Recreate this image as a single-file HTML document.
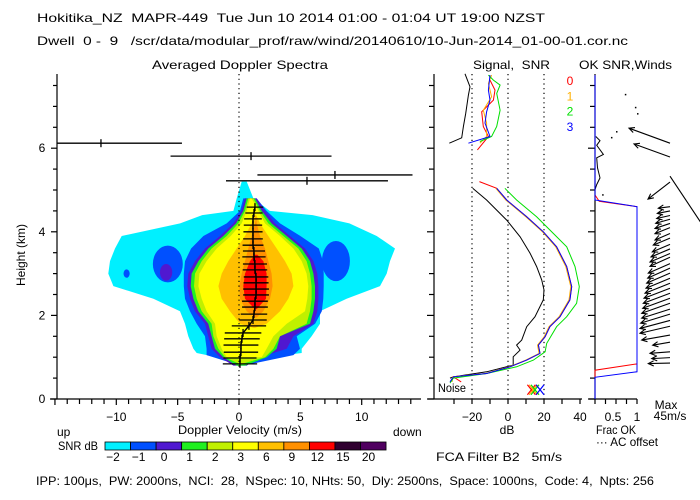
<!DOCTYPE html>
<html><head><meta charset="utf-8">
<style>
body{margin:0;background:#fff}
svg{display:block;font-family:"Liberation Sans",sans-serif;}
text{fill:#000;font-size:12px;white-space:pre}
</style></head>
<body>
<svg id="chart" width="700" height="500" viewBox="0 0 700 500" xml:space="preserve">
<defs>
<clipPath id="mainClip"><rect x="57" y="74" width="364" height="325"/></clipPath>
<clipPath id="windClip"><rect x="595" y="74" width="105" height="325"/></clipPath>
</defs>
<rect width="700" height="500" fill="#fff"/>
<text x="37" y="22" font-size="13" textLength="508" lengthAdjust="spacingAndGlyphs">Hokitika_NZ  MAPR-449  Tue Jun 10 2014 01:00 - 01:04 UT 19:00 NZST</text>
<text x="37" y="45" font-size="12" textLength="591" lengthAdjust="spacingAndGlyphs">Dwell  0 -  9   /scr/data/modular_prof/raw/wind/20140610/10-Jun-2014_01-00-01.cor.nc</text>
<text x="152" y="69" font-size="12" textLength="176" lengthAdjust="spacingAndGlyphs">Averaged Doppler Spectra</text>
<text x="473" y="69" font-size="12" textLength="77" lengthAdjust="spacingAndGlyphs">Signal,  SNR</text>
<text x="579" y="69" font-size="12" textLength="93" lengthAdjust="spacingAndGlyphs">OK SNR,Winds</text>
<text x="25" y="255" font-size="11" text-anchor="middle" transform="rotate(-90 25 255)">Height (km)</text>
<text x="240" y="434" font-size="12" text-anchor="middle" textLength="124" lengthAdjust="spacingAndGlyphs">Doppler Velocity (m/s)</text>
<text x="57" y="436" font-size="12">up</text>
<text x="393" y="436" font-size="12">down</text>
<text x="58" y="450" font-size="12" textLength="40" lengthAdjust="spacingAndGlyphs">SNR dB</text>
<text x="507" y="434" font-size="12" text-anchor="middle">dB</text>
<text x="666" y="409" font-size="12" text-anchor="middle">Max</text>
<text x="670" y="420" font-size="12" text-anchor="middle">45m/s</text>
<text x="596" y="434" font-size="12" textLength="40" lengthAdjust="spacingAndGlyphs">Frac OK</text>
<text x="596" y="446" font-size="12" textLength="62" lengthAdjust="spacingAndGlyphs">··· AC offset</text>
<text x="436" y="461" font-size="12" textLength="126" lengthAdjust="spacingAndGlyphs">FCA Filter B2   5m/s</text>
<text x="36" y="485" font-size="12" textLength="618" lengthAdjust="spacingAndGlyphs">IPP: 100μs,  PW: 2000ns,  NCI:  28,  NSpec: 10, NHts: 50,  Dly: 2500ns,  Space: 1000ns,  Code: 4,  Npts: 256</text>
<text x="438" y="392" font-size="12" textLength="28" lengthAdjust="spacingAndGlyphs">Noise</text>
<g id="mainG" clip-path="url(#mainClip)"></g>
<g id="axesG"></g>
<g id="sigG"></g>
<g id="windG"></g>
<g id="cbG"></g>
</svg>
<script>
// ---------- data ----------
const cyanH=[0.8,0.95,1.1,1.2,1.5,1.8,2.1,2.4,2.7,3.0,3.3,3.6,3.9,4.2,4.4,4.5,4.8,5.2];
const cyanL=[-0.19,-1.0,-3.45,-3.72,-4.13,-4.40,-4.81,-6.98,-10.24,-10.65,-10.51,-10.11,-9.56,-4.8,-3.0,-0.46,-0.19,0.22];
const cyanR=[0.63,1.2,5.11,5.11,5.92,6.60,6.60,8.77,11.49,12.04,12.31,12.71,11.22,9.0,6.0,2.5,1.17,0.63];
const blueH=[0.85,1.05,1.2,1.5,1.8,2.1,2.4,2.7,3.0,3.3,3.6,3.9,4.2,4.5,4.8];
const blueL=[-0.46,-2.64,-2.64,-2.77,-3.45,-3.99,-4.4,-4.5,-4.5,-4.4,-3.9,-2.9,-1.0,0.08,0.35];
const blueR=[1.17,4.43,4.97,4.70,6.2,6.75,6.87,6.9,6.9,6.85,6.5,5.0,3.34,2.25,1.44];
const purpH=[0.8,1.0,1.2,1.5,1.8,2.1,2.4,2.7,3.0,3.3,3.6,3.9,4.2,4.5,4.8];
const purpL=[-0.46,-1.55,-2.23,-2.50,-2.77,-3.59,-3.99,-4.21,-4.13,-3.59,-2.77,-1.55,-0.46,0.22,0.49];
const purpR=[0.63,1.71,3.89,4.43,6.06,6.38,6.47,6.47,6.38,6.06,5.38,4.16,2.93,2.12,1.44];
const grnH=[0.8,1.0,1.2,1.5,1.8,2.1,2.4,2.7,3.0,3.3,3.6,3.9,4.2,4.5,4.8];
const grnL=[-0.19,-1.28,-1.96,-2.23,-2.50,-3.31,-3.72,-3.94,-3.86,-3.31,-2.50,-1.28,-0.24,0.35,0.63];
const grnR=[0.49,2.25,3.07,3.34,5.79,6.06,6.19,6.19,6.06,5.79,5.11,3.89,2.66,1.85,1.30];
const ygH=[0.85,1.0,1.2,1.5,1.8,2.1,2.4,2.7,3.0,3.3,3.6,3.9,4.2,4.5,4.8];
const ygL=[-0.05,-1.14,-1.68,-2.09,-2.23,-3.04,-3.45,-3.67,-3.59,-3.04,-2.23,-1.00,-0.05,0.49,0.76];
const ygR=[0.35,2.12,2.80,3.34,5.51,5.79,5.92,5.92,5.79,5.51,4.84,3.61,2.39,1.71,1.17];
const yelH=[1.0,1.2,1.5,1.8,2.1,2.4,2.7,3.0,3.3,3.6,3.9,4.2,4.5,4.8];
const yelL=[-1.00,-1.41,-1.82,-1.96,-2.64,-3.04,-3.31,-3.23,-2.64,-1.82,-0.68,0.22,0.63,0.90];
const yelR=[1.85,2.25,2.80,3.89,5.38,5.57,5.65,5.51,5.11,4.43,3.34,2.12,1.58,1.03];
const lorH=[1.7,1.8,2.1,2.4,2.7,3.0,3.3,3.6,3.9,4.2,4.4];
const lorL=[1.2,0.08,-0.73,-1.41,-1.68,-1.41,-0.87,-0.19,0.49,1.03,1.3];
const lorR=[1.3,2.25,3.34,4.02,4.43,4.29,3.75,3.07,2.39,1.71,1.4];
const orgH=[1.95,2.1,2.4,2.7,3.0,3.3,3.6,3.9,4.2,4.35];
const orgL=[1.30,0.63,0.08,0.03,0.22,0.49,0.76,1.03,1.30,1.4];
const orgR=[1.44,1.98,2.53,2.74,2.66,2.39,2.12,1.71,1.44,1.4];
const redH=[2.15,2.4,2.7,3.0,3.3,3.45];
const redL=[1.30,0.49,0.35,0.49,0.90,1.30];
const redR=[1.44,2.20,2.25,2.25,1.98,1.5];
const lobeV=[-5.8,7.9,-5.94,-9.16];
const lobeH=[3.23,3.3,3.03,3.0];
const lobeRV=[1.22,1.14,0.5,0.25];
const lobeRH=[0.44,0.48,0.2,0.1];
const lobeLevel=['blue','blue','purple','blue'];

const outH=[6.12,5.81,5.36,5.22];
const outV=[-11.25,0.98,7.82,5.54];
const outW=[6.6,6.56,6.32,6.6];
const plumeH=[4.59,4.45,4.31,4.16,4.0,3.83,3.68,3.54,3.40,3.23,3.09,2.92,2.78,2.63,2.49,2.34,2.20,2.03,1.89,1.75,1.58,1.44,1.29,1.12,0.98,0.84];
const plumeV=[1.30,1.22,1.14,1.14,1.14,1.14,1.14,1.22,1.22,1.30,1.30,1.39,1.39,1.39,1.39,1.30,1.30,1.22,1.14,0.81,0.33,0.24,0.16,0.16,0.08,0.08];
const plumeW=[0.68,0.7,0.72,0.75,0.78,0.8,0.85,0.9,0.95,0.98,1.0,1.0,1.02,1.05,1.05,1.05,1.05,1.08,1.12,1.4,1.49,1.45,1.42,1.4,1.35,1.4];

const noiseLowDB=[-19.6,-11.9,-0.7,6.7,12.2,15.9,18.7,20.0,19.6,15.0,10.4,7.6,4.8,6.7,2.9,2.9,-11.9,-30.4,-32.2];
const noiseLowH=[5.04,4.76,4.28,3.88,3.49,3.17,2.85,2.61,2.37,1.97,1.73,1.41,1.29,1.17,1.01,0.81,0.65,0.53,0.50];
const noiseUpDB=[-32.6,-25.7,-24.8,-23.5,-22.0,-21.1,-23.9];
const noiseUpH=[6.12,6.25,6.52,6.83,7.27,7.47,7.78];
const b0DB=[-15.9,-6.3,-0.7,10.4,19.6,27.0,32.6,35.4,34.4,28.9,23.3,20.6,16.9,17.8,10.4,1.1,-11.9,-30.4,-26.0];
const b0H=[5.20,5.04,4.76,4.36,4.00,3.64,3.17,2.69,2.37,1.97,1.73,1.49,1.29,1.09,0.93,0.77,0.61,0.53,0.41];
const b1DB=[-6.8,-1.2,9.9,19.1,26.5,32.1,34.9,33.9,28.4,22.8,20.1,16.4,17.3,9.9,0.6,-12.4,-30.9,-31.0];
const b1H=[5.04,4.76,4.36,4.00,3.64,3.17,2.69,2.37,1.97,1.73,1.49,1.29,1.09,0.93,0.77,0.61,0.53,0.41];
const b2DB=[-1.7,4.8,15.9,25.2,32.6,37.2,39.6,38.1,32.6,27.0,21.5,20.6,14.1,4.8,-11.9,-30.4,-32.2];
const b2H=[5.04,4.76,4.36,3.96,3.64,3.17,2.69,2.29,1.97,1.73,1.33,1.13,0.93,0.77,0.61,0.50,0.38];
const b3DB=[-6.3,-0.7,10.4,19.6,27.0,32.6,35.4,34.4,28.9,23.3,20.6,16.9,17.8,10.4,1.1,-11.9,-30.4,-32.2];
const b3H=[5.04,4.76,4.36,4.00,3.64,3.17,2.69,2.37,1.97,1.73,1.49,1.29,1.09,0.93,0.77,0.61,0.53,0.41];
const u0DB=[-17.0,-10.9,-13.7,-14.6,-8.1,-7.2,-10.0];
const u0H=[5.96,6.28,6.52,6.87,7.15,7.39,7.63];
const u1DB=[-15.6,-11.9,-11.9,-13.7,-9.1,-10.9,-9.1];
const u1H=[6.12,6.28,6.60,6.91,7.23,7.55,7.75];
const u2DB=[-15.6,-9.1,-6.3,-4.4,-6.3,-4.4,-8.1,-10.9];
const u2H=[6.16,6.28,6.52,6.91,7.31,7.51,7.63,7.75];
const u3DB=[-22.0,-10.0,-12.8,-11.9,-10.0,-10.9,-10.0];
const u3H=[6.12,6.28,6.60,6.87,7.15,7.39,7.75];
const xMarkDB=[13.0,14.0,15.0,17.8];
const beamLabels=['0','1','2','3'];

const fracBlueF=[0,0,1.0,1.0,0,0];
const fracBlueH=[7.75,4.76,4.6,0.65,0.52,0];
const fracRedF=[0,0,0.1,1.0,1.0,0,0];
const fracRedH=[7.75,4.88,4.73,4.6,0.84,0.69,0];
const fracOkF=[0.02,0.12,0.04,0.2,0.04,0.06,0.12,0.04,0];
const fracOkH=[6.28,6.18,6.07,5.85,5.77,5.53,5.29,5.13,5.01];
const windH=[6.12,5.79,5.19,5.33,4.60,4.50,4.39,4.30,4.20,4.10,3.96,3.85,3.70,3.59,3.48,3.39,3.24,3.13,3.01,2.89,2.77,2.65,2.53,2.41,2.29,2.15,2.03,1.88,1.74,1.53,1.36,1.13,0.99,0.86];
const windU=[-41,-36,-22,40,-11.7,-12.7,-13.3,-14.3,-15,-15,-15,-16.7,-17.7,-19,-20,-20,-21.7,-22.3,-23.3,-24,-25,-26,-26.7,-27.3,-28.3,-28.3,-29.3,-30,-30,-28.3,-17.3,-20,-18.3,-21.7];
const windV=[15,13,-17,-60,-1.5,-2.5,-3,-4,-5,-6,-6.5,-7,-7.5,-8,-8.5,-9,-9.5,-10,-10,-10,-10,-10,-10,-10,-10,-9,-9,-8,-7,-5,-3,-1.5,-1,-0.5];
const dotF=[0.71,0.95,1.0,0.5,0.38,0.17];
const dotH=[7.3,6.99,6.84,6.41,6.27,4.9];

const velTicks=[-10,-5,0,5,10];
const heightTicks=[0,2,4,6];
const dbTicks=[-20,0,20,40];
const fracTicks=[0.5,1];
const cbLabels=['-2','-1','0','1','2','3','6','9','12','15','20'];
const cbColors=['#00f0ff','#0050ff','#5018d0','#20f020','#c0f000','#ffff00','#ffc000','#ff9000','#ff0000','#300030','#500060'];

// ---------- scales ----------
const mx=v=>239+v*12.27;
const my=h=>399-h*41.8;
const sx=d=>508+d*1.8;
const wx=f=>595+f*42;
const NS='http://www.w3.org/2000/svg';
function mk(tag,attrs,parent){const e=document.createElementNS(NS,tag);for(const k in attrs)e.setAttribute(k,attrs[k]);parent.appendChild(e);return e;}
const mainG=document.getElementById('mainG'),axesG=document.getElementById('axesG'),sigG=document.getElementById('sigG'),windG=document.getElementById('windG'),cbG=document.getElementById('cbG');

const levels=[
 ['cyan',cyanH,cyanL,cyanR,'#00f0ff'],
 ['blue',blueH,blueL,blueR,'#0050ff'],
 ['purple',purpH,purpL,purpR,'#5018d0'],
 ['green',grnH,grnL,grnR,'#20f020'],
 ['yellowgreen',ygH,ygL,ygR,'#c0f000'],
 ['yellow',yelH,yelL,yelR,'#ffff00'],
 ['lightorange',lorH,lorL,lorR,'#ffc000'],
 ['orange',orgH,orgL,orgR,'#ff9000'],
 ['red',redH,redL,redR,'#ff0000']];
const lobeColor={blue:'#0050ff',purple:'#5018d0'};
levels.forEach((lv,li)=>{
  const [name,H,L,R,col]=lv;
  const pts=[];
  for(let i=0;i<H.length;i++)pts.push(mx(L[i]).toFixed(1)+','+my(H[i]).toFixed(1));
  for(let i=H.length-1;i>=0;i--)pts.push(mx(R[i]).toFixed(1)+','+my(H[i]).toFixed(1));
  const p=mk('polygon',{points:pts.join(' '),fill:col},mainG);
  
  
  if(name==='cyan'){
    lobeV.forEach((v,i)=>{
      const e=mk('ellipse',{cx:mx(v),cy:my(lobeH[i]),rx:lobeRV[i]*12.27,ry:lobeRH[i]*41.8,fill:lobeColor[lobeLevel[i]]},mainG);
      
      
    });
  }
});
const zl=mk('line',{x1:mx(0),x2:mx(0),y1:74,y2:399,stroke:'#000','stroke-width':1.2,'stroke-dasharray':'1.2 3.5'},mainG);


function bar(h,v,w,name){
  const y=my(h);
  const a=mk('line',{x1:mx(v-w),x2:mx(v+w),y1:y,y2:y,stroke:'#000','stroke-width':1.3},mainG);
  
  
  const t=mk('line',{x1:mx(v),x2:mx(v),y1:y-4,y2:y+4,stroke:'#000','stroke-width':1.3},mainG);
  
  
}
outH.forEach((h,i)=>bar(h,outV[i],outW[i],'outlier-moment-'+i));
plumeH.forEach((h,i)=>bar(h,plumeV[i],plumeW[i],'moment-bar-'+i));
const pl=mk('polyline',{points:plumeH.map((h,i)=>mx(plumeV[i])+','+my(h)).join(' '),fill:'none',stroke:'#000','stroke-width':1.4},mainG);



function ln(x1,y1,x2,y2,name,extra){
  const l=mk('line',Object.assign({x1:x1,y1:y1,x2:x2,y2:y2,stroke:'#000','stroke-width':1.2},extra||{}),axesG);
  
  
  return l;
}
function txt(x,y,s,name,anchor){
  const t=mk('text',{x:x,y:y,'text-anchor':anchor||'middle','font-size':12},axesG);
  t.textContent=s;
  
  
}
ln(57,74,57,399,'main-y-axis');
ln(50,399,421,399,'main-x-axis');
for(let h=0;h<=7.5;h+=0.5)ln(h%2===0?51:53,my(h),57,my(h),'main-y-tick');
for(let v=-15;v<=14;v++)ln(mx(v),399,mx(v),v%5===0?405:404,'main-x-tick');
heightTicks.forEach(h=>txt(42,my(h)+4,String(h),'y-tick-label-'+h));
velTicks.forEach(v=>txt(mx(v),421,v<0?'\u2212'+(-v):String(v),'x-tick-label-'+v));
ln(434,74,434,399,'signal-y-axis');
ln(428,399,582,399,'signal-x-axis');
for(let h=0;h<=7.5;h+=0.5)ln(h%2===0?427:429,my(h),434,my(h),'signal-y-tick');
for(let d=-30;d<=40;d+=10)ln(sx(d),399,sx(d),404,'signal-x-tick');
dbTicks.forEach(d=>txt(sx(d),421,d<0?'\u2212'+(-d):String(d),'db-tick-label-'+d));
[-20,0,20].forEach(d=>ln(sx(d),74,sx(d),399,'signal-ref-line-'+d,{'stroke-dasharray':'1.2 3.5'}));
ln(595,74,595,399,'winds-y-axis');
ln(589,399,637,399,'winds-x-axis');
for(let h=0;h<=7.5;h+=0.5)ln(h%2===0?588:590,my(h),595,my(h),'winds-y-tick');
for(let f=0;f<=1.001;f+=0.25)ln(wx(f),399,wx(f),404,'winds-x-tick');
fracTicks.forEach(f=>txt(wx(f)-(f===1?0:3),421,String(f),'frac-tick-label-'+f));

function curve(g,dbs,hs,col,name,xf){
  const p=mk('polyline',{points:dbs.map((d,i)=>xf(d).toFixed(1)+','+my(hs[i]).toFixed(1)).join(' '),fill:'none',stroke:col,'stroke-width':1},g);
  
  
}
curve(sigG,noiseLowDB,noiseLowH,'#000','noise-curve-lower',sx);
curve(sigG,noiseUpDB,noiseUpH,'#000','noise-curve-upper',sx);
const beamCols=['#ff0000','#ffb000','#00e000','#0000ff'];
[[b0DB,b0H],[b1DB,b1H],[b2DB,b2H],[b3DB,b3H]].forEach((b,i)=>curve(sigG,b[0],b[1],beamCols[i],'beam-'+i+'-snr',sx));
[[u0DB,u0H],[u1DB,u1H],[u2DB,u2H],[u3DB,u3H]].forEach((b,i)=>curve(sigG,b[0],b[1],beamCols[i],'beam-'+i+'-snr-upper',sx));
xMarkDB.forEach((d,i)=>{
  const x=sx(d),y=my(0.22),c=beamCols[i];
  const a=mk('path',{d:`M${x-4},${y-5}L${x+4},${y+5}M${x+4},${y-5}L${x-4},${y+5}`,stroke:c,'stroke-width':1.2,fill:'none'},sigG);
  
  
});
beamLabels.forEach((s,i)=>{
  const t=mk('text',{x:570,y:85+i*15.3,'text-anchor':'middle','font-size':12,style:'fill:'+beamCols[i]},sigG);
  t.textContent=s;
  
  
});

curve(windG,fracOkF,fracOkH,'#000','ac-offset-curve',wx);
curve(windG,fracRedF,fracRedH,'#ff0000','frac-ok-beam-0',wx);
curve(windG,fracBlueF,fracBlueH,'#0000ff','frac-ok-beam-3',wx);
dotF.forEach((f,i)=>{
  const d=mk('rect',{x:wx(f),y:my(dotH[i]),width:1.5,height:1.5,fill:'#000'},windG);
  
  
});
const wclip=mk('g',{'clip-path':'url(#windClip)'},windG);
windH.forEach((h,i)=>{
  const tx=670,ty=my(h),hx=tx+windU[i],hy=ty-windV[i];
  const ang=Math.atan2(ty-hy,tx-hx),L=6,s=0.45;
  const a1x=hx+L*Math.cos(ang+s),a1y=hy+L*Math.sin(ang+s),a2x=hx+L*Math.cos(ang-s),a2y=hy+L*Math.sin(ang-s);
  const p=mk('path',{d:`M${tx},${ty}L${hx},${hy}M${a1x},${a1y}L${hx},${hy}L${a2x},${a2y}`,stroke:'#000','stroke-width':1.1,fill:'none'},wclip);
  
  
});

const cbX0=105,cbW=25.55;
cbColors.forEach((c,i)=>{
  const r=mk('rect',{x:cbX0+i*cbW,y:442,width:cbW,height:8,fill:c,stroke:'#000','stroke-width':0.8},cbG);
  
  
  const t=mk('text',{x:cbX0+i*cbW+8,y:461,'text-anchor':'middle','font-size':12},cbG);
  t.textContent=cbLabels[i].replace('-','\u2212');
  
  
});
</script>
</body></html>
